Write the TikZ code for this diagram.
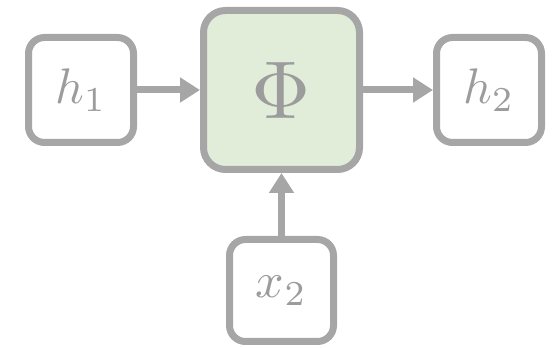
\documentclass[tikz,border=0pt]{standalone}
\usepackage{graphicx}
\usetikzlibrary{arrows.meta}
\definecolor{edgegray}{HTML}{A6A6A6}
\definecolor{textgray}{HTML}{9C9C9C}
\definecolor{phifill}{HTML}{E1ECD9}
\newcommand{\bigsym}[2]{\scalebox{#1}{$#2$}}
\begin{document}
\begin{tikzpicture}[x=1pt,y=1pt,
  box/.style={draw=edgegray, line width=7pt, rounded corners=16pt,
    fill=white, inner sep=0pt, minimum width=105pt, minimum height=105pt,
    text=textgray},
  core/.style={box, fill=phifill, minimum width=156pt, minimum height=159pt,
    rounded corners=22pt},
  flow/.style={draw=edgegray, line width=7pt,
    -{Triangle[length=20pt,width=24pt]}}]
  \useasboundingbox (0,0) rectangle (557,348);
  \node[core] (phi) at (281.5,258) {\bigsym{8.2}{\Phi}};
  \node[box] (h1) at (81,258) {\bigsym{5}{h_1}};
  \node[box] (h2) at (489,258) {\bigsym{5}{h_2}};
  \node[box, minimum width=104pt, minimum height=102pt] (x2) at (281.5,57.5) {\bigsym{5}{x_2}};
  \draw[flow] (h1) -- (phi);
  \draw[flow] (phi) -- (h2);
  \draw[flow] (x2) -- (phi);
\end{tikzpicture}
\end{document}
